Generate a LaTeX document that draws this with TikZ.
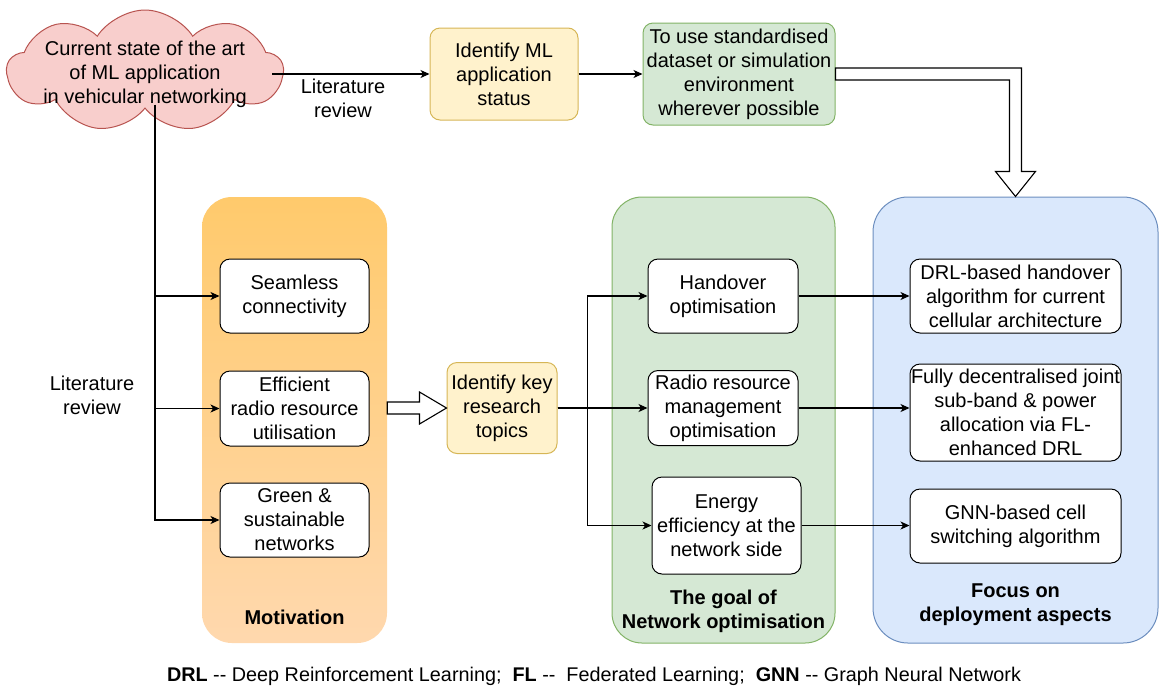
\documentclass[tikz,border=0pt]{standalone}
\usepackage{fontspec}
\setmainfont{Liberation Sans}
\usetikzlibrary{shapes.symbols,arrows.meta,calc}

\definecolor{pinkF}{HTML}{F8CECC}\definecolor{pinkD}{HTML}{B85450}
\definecolor{yelF}{HTML}{FFF2CC}\definecolor{yelD}{HTML}{D6B656}
\definecolor{grnF}{HTML}{D5E8D4}\definecolor{grnD}{HTML}{82B366}
\definecolor{bluF}{HTML}{DAE8FC}\definecolor{bluD}{HTML}{6C8EBF}
\definecolor{oraT}{HTML}{FFCA6C}\definecolor{oraB}{HTML}{FFD8AE}

\tikzset{
  txt/.style={font=\fontsize{20}{24}\selectfont, align=center, inner sep=0pt},
  sized/.style 2 args={minimum width=#1pt, minimum height=#2pt, inner sep=0pt},
  ybox/.style={txt, draw=yelD, fill=yelF, rounded corners=10pt, line width=1pt},
  gbox/.style={txt, draw=grnD, fill=grnF, rounded corners=10pt, line width=1pt},
  wbox/.style={txt, draw=black, fill=white, rounded corners=10pt, line width=1pt},
  panel/.style={rounded corners=30pt, line width=1pt},
  arr/.style={-{Stealth[length=9pt,width=8pt,inset=2.5pt]}, line width=1.1pt},
  hollow/.style={draw=black, fill=white, line width=1.1pt, line join=miter},
  bold/.style={txt, font=\fontsize{20}{24}\selectfont\bfseries},
}

\begin{document}
\begin{tikzpicture}[x=1pt, y=-1pt]
  \useasboundingbox (0,0) rectangle (1166,689);

  % source cloud
  \node[cloud, cloud puffs=9, cloud puff arc=115, draw=pinkD, fill=pinkF,
        line width=1pt, minimum width=276pt, minimum height=122pt, inner sep=0pt]
        (cloud) at (145,71) {};
  \node[txt] (cloudtxt) at ($(cloud.center)+(0,3)$) {Current state of the art\\of ML application\\in vehicular networking};

  % top row
  \node[ybox, sized={148}{92}] (idml) at (504,74) {Identify ML\\application\\status};
  \node[gbox, sized={192}{102}] (std) at (739,74) {To use standardised\\dataset or simulation\\environment\\wherever possible};
  \node[txt] (litA) at (343,98) {Literature\\review};
  \node[txt] (litB) at (92,395) {Literature\\review};

  % panels
  \shade[panel, top color=oraT, bottom color=oraB] (202,197) rectangle (387,643);
  \node[sized={185}{446}] (mot) at (294.5,420) {};
  \node[panel, draw=grnD, fill=grnF, sized={223}{446}] (goal) at (723.5,420) {};
  \node[panel, rounded corners=35pt, draw=bluD, fill=bluF, sized={285}{446}] (focus) at (1015.5,420) {};

  \node[bold] (motlbl) at (294.5,617) {Motivation};
  \node[bold] (goallbl) at (723.5,611) {The goal of\\Network optimisation};
  \node[bold] (foclbl) at (1015.5,605) {Focus on\\deployment aspects};

  % motivation items
  \node[wbox, sized={149}{74}] (seam) at (294.5,296) {Seamless\\connectivity};
  \node[wbox, sized={149}{75}] (eff) at (294.5,408.5) {Efficient\\radio resource\\utilisation};
  \node[wbox, sized={149}{74}] (green) at (294.5,520) {Green \&\\sustainable\\networks};

  % research topics
  \node[ybox, sized={110}{91}] (key) at (502,408) {Identify key\\research\\topics};

  % optimisation goals
  \node[wbox, sized={150}{74}] (hand) at (723,296) {Handover\\optimisation};
  \node[wbox, sized={150}{75}] (rrm) at (723,408) {Radio resource\\management\\optimisation};
  \node[wbox, sized={149}{97}] (energy) at (726.5,525.5) {Energy\\efficiency at the\\network side};

  % deployment outcomes
  \node[wbox, sized={211}{74}] (drl) at (1015.5,296) {DRL-based handover\\algorithm for current\\cellular architecture};
  \node[wbox, sized={211}{97}] (fully) at (1015.5,412.5) {Fully decentralised joint\\sub-band \& power\\allocation via FL-\\enhanced DRL};
  \node[wbox, sized={211}{74}] (gnn) at (1015.5,526) {GNN-based cell\\switching algorithm};

  % connectors
  \draw[arr] (idml.west -| cloud.east) ++(-12,0) -- (idml.west);
  \draw[arr] (idml.east) -- (std.west);

  \coordinate (trunk) at ($(cloud.south)+(10,-4)$);
  \draw[arr] (trunk) |- (seam.west);
  \draw[arr] (trunk) |- (eff.west);
  \draw[arr] (trunk) |- (green.west);

  \draw[arr] (key.east) -- ++(30,0) |- (hand.west);
  \draw[arr] (key.east) -- (rrm.west);
  \draw[arr] (key.east) -- ++(30,0) |- (energy.west);

  \draw[arr] (hand.east) -- (hand.east -| drl.west);
  \draw[arr] (rrm.east) -- (rrm.east -| fully.west);
  \draw[arr] (energy.east) -- (energy.east -| gnn.west);

  % hollow block arrows
  \draw[hollow] ($(key.west -| mot.east)+(0,-6)$) -- ($(key.west)+(-27,-6)$)
     -- ($(key.west)+(-27,-16)$) -- (key.west) -- ($(key.west)+(-27,16)$)
     -- ($(key.west)+(-27,6)$) -- ($(key.west -| mot.east)+(0,6)$) -- cycle;
  \draw[hollow] ($(std.east)+(0,-6)$) -- ($(std.east -| focus.north)+(6,-6)$)
     -- ($(focus.north)+(6,-25)$) -- ($(focus.north)+(20,-25)$) -- (focus.north)
     -- ($(focus.north)+(-20,-25)$) -- ($(focus.north)+(-6,-25)$)
     -- ($(std.east -| focus.north)+(-6,6)$) -- ($(std.east)+(0,6)$) -- cycle;

  % abbreviations
  \node[inner sep=0pt, font=\fontsize{19.8}{22}\selectfont] (legend) at (594,676)
    {\textbf{DRL} {-}{-} Deep Reinforcement Learning;\ \ \textbf{FL} {-}{-}\ \ Federated Learning;\ \ \textbf{GNN} {-}{-} Graph Neural Network};
\end{tikzpicture}
\end{document}
